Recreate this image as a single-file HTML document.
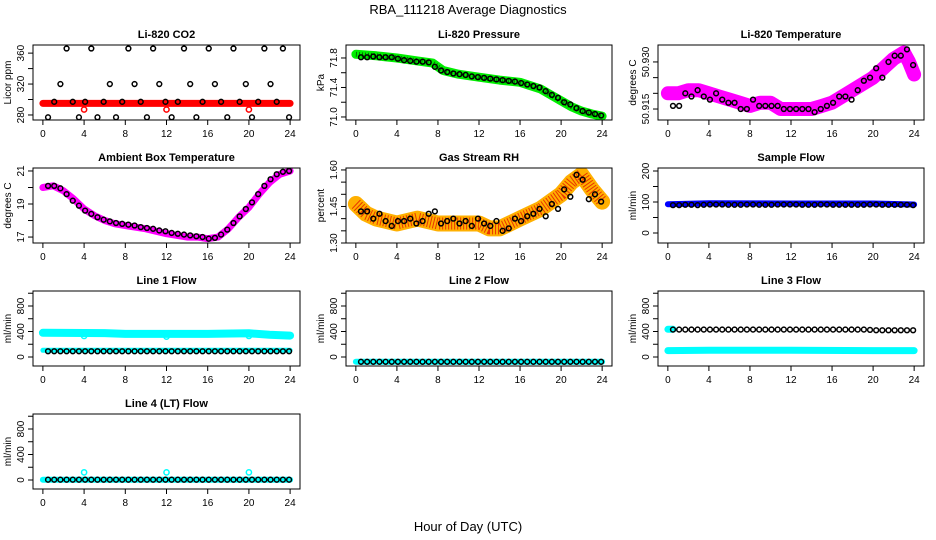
<!DOCTYPE html>
<html><head><meta charset="utf-8">
<style>
html,body{margin:0;padding:0;background:#fff;}
svg{display:block;font-family:"Liberation Sans",Arial,sans-serif;}
</style></head>
<body>
<svg id="chart" width="936" height="540" viewBox="0 0 936 540">
<text x="468" y="14" font-size="13" text-anchor="middle">RBA_111218  Average Diagnostics</text>
<text x="468" y="531" font-size="13" text-anchor="middle">Hour of Day (UTC)</text>
</svg>
<script>
// ---- shared data ----
const circleHours = [0.5,1.1,1.7,2.3,2.9,3.5,4.1,4.7,5.3,5.9,6.5,7.1,7.7,8.3,8.9,9.5,10.1,10.7,11.3,11.9,12.5,13.1,13.7,14.3,14.9,15.5,16.1,16.7,17.3,17.9,18.5,19.1,19.7,20.3,20.9,21.5,22.1,22.7,23.3,23.9];
const xTicks = [0,4,8,12,16,20,24];
const outlierHours = [4,12,20];

// CO2
const co2BandHours = [0,24];
const co2Band = [295,295];
const co2Circles = [277,297,320,366,297,277,297,366,277,297,320,277,297,366,320,297,277,366,320,297,277,297,366,320,277,297,366,320,297,277,366,297,320,277,297,366,320,297,366,277];
const co2Outliers = [287,287,287];
// Pressure
const presBandHours = [0,2,4,6,7.5,8.5,10,12,14,16,18,19,20,21,22,23,24];
const presBand = [71.85,71.83,71.80,71.76,71.73,71.63,71.58,71.54,71.5,71.47,71.38,71.3,71.22,71.14,71.08,71.04,71.01];
const presCircles = [71.81,71.81,71.82,71.81,71.81,71.81,71.79,71.77,71.76,71.75,71.75,71.74,71.68,71.63,71.61,71.59,71.58,71.57,71.55,71.54,71.53,71.52,71.51,71.50,71.49,71.48,71.46,71.44,71.42,71.40,71.35,71.30,71.26,71.20,71.17,71.12,71.08,71.06,71.04,71.02];
// Li-820 temperature
const tempBandHours = [0,1,2,3,4,5,6,7,8,9,10,11,12,13,14,15,16,17,18,19,20,21,22,23,23.5,24];
const tempBand = [50.920,50.920,50.921,50.921,50.920,50.919,50.918,50.917,50.916,50.917,50.917,50.915,50.915,50.915,50.915,50.916,50.917,50.919,50.921,50.923,50.925,50.928,50.931,50.933,50.930,50.926];
const tempCircles = [50.916,50.916,50.920,50.919,50.921,50.919,50.918,50.920,50.918,50.917,50.917,50.915,50.915,50.918,50.916,50.916,50.916,50.916,50.915,50.915,50.915,50.915,50.915,50.914,50.915,50.916,50.917,50.919,50.919,50.918,50.921,50.924,50.925,50.928,50.925,50.930,50.932,50.932,50.934,50.929];
// Ambient
const ambBandHours = [0,1,2,3,4,5,6,7,8,10,12,14,15,16,17,18,19,20,21,22,23,24];
const ambBand = [20.0,20.1,19.8,19.3,18.7,18.3,18.0,17.8,17.7,17.5,17.2,17.0,17.0,16.9,17.0,17.5,18.2,18.8,19.6,20.3,20.8,21.0];
const ambCircles = [20.1,20.1,19.95,19.6,19.2,18.9,18.6,18.4,18.2,18.05,17.95,17.85,17.8,17.75,17.7,17.6,17.55,17.5,17.4,17.35,17.25,17.2,17.15,17.1,17.05,17.0,16.9,16.95,17.15,17.45,17.85,18.25,18.7,19.1,19.6,20.1,20.5,20.8,20.95,21.0];
// RH
const rhBandHours = [0,1,2,4,6,8,10,12,13,14,15,16,18,20,21,22,23,24];
const rhBand = [1.46,1.42,1.40,1.38,1.40,1.38,1.38,1.38,1.36,1.36,1.38,1.40,1.44,1.50,1.55,1.58,1.52,1.47];
const rhCircles = [1.43,1.43,1.40,1.42,1.39,1.37,1.39,1.39,1.40,1.38,1.39,1.42,1.43,1.38,1.39,1.40,1.38,1.39,1.37,1.40,1.38,1.37,1.39,1.35,1.36,1.40,1.39,1.41,1.42,1.44,1.41,1.46,1.44,1.52,1.49,1.58,1.56,1.48,1.50,1.47];
// Sample flow
const sampBandHours = [0,4,12,20,24];
const sampBand = [93,96,95,95,92];
const sampCircles = [90,90,91,91,90,91,92,92,92,91,91,91,92,92,91,91,91,92,92,92,92,91,91,91,92,92,91,91,91,91,91,91,92,92,91,91,91,91,91,90];
// Line flows
const l1HighHours = [0,6,8,16,20,22,24];
const l1High = [380,375,362,362,372,350,335];
const l1LowHours = [0,24];
const l1Low = [105,105];
const l1Circles = [90,90,90,90,90,90,90,90,90,90,90,90,90,90,90,90,90,90,90,90,90,90,90,90,90,90,90,90,90,90,90,90,90,90,90,90,90,90,90,90];
const l1Outliers = [330,320,330];
const l2BandHours = [0,24];
const l2Band = [-75,-75];
const l2Circles = [-75,-75,-75,-75,-75,-75,-75,-75,-75,-75,-75,-75,-75,-75,-75,-75,-75,-75,-75,-75,-75,-75,-75,-75,-75,-75,-75,-75,-75,-75,-75,-75,-75,-75,-75,-75,-75,-75,-75,-75];
const l3HighHours = [0,0.5];
const l3High = [435,435];
const l3LowHours = [0,4,12,20,24];
const l3Low = [100,105,105,100,100];
const l3Circles = [430,430,430,430,430,430,430,430,430,430,430,430,430,430,430,430,430,430,430,430,430,430,430,430,430,430,430,430,430,430,430,430,425,420,420,420,420,420,420,420];
const l4BandHours = [0,24];
const l4Band = [5,5];
const l4Circles = [5,5,5,5,5,5,5,5,5,5,5,5,5,5,5,5,5,5,5,5,5,5,5,5,5,5,5,5,5,5,5,5,5,5,5,5,5,5,5,5];
const l4Outliers = [120,120,120];

const NS = "http://www.w3.org/2000/svg";
const svg = document.getElementById('chart');
function mk(tag, attrs, parent){
  const e = document.createElementNS(NS, tag);
  for (const k in attrs) e.setAttribute(k, attrs[k]);
  (parent||svg).appendChild(e);
  return e;
}
const colL = [33,346,658], colR = [300,612,924];
const rowT = [45,168,291,414], rowB = [120,243,366,489];

function panel(o){
  const L = colL[o.c], R = colR[o.c], T = rowT[o.r], B = rowB[o.r];
  const g = mk('g', {});
  
  
  const sx = h => L + (h + 0.96) / 25.92 * (R - L);
  const sy = v => B - (v - o.ylim[0]) / (o.ylim[1] - o.ylim[0]) * (B - T);
  const clip = 'clip' + o.name;
  const cp = mk('clipPath', {id: clip}, g);
  mk('rect', {x: L, y: T, width: R - L, height: B - T}, cp);
  const pg = mk('g', {'clip-path': 'url(#' + clip + ')'}, g);
  (o.bands || []).forEach(b => {
    const pts = b.hours.map((h, i) => sx(h).toFixed(1) + ',' + sy(b.vals[i]).toFixed(1)).join(' ');
    const pl = mk('polyline', {points: pts, fill: 'none', stroke: b.color, 'stroke-width': b.w, 'stroke-linejoin': 'round', 'stroke-linecap': 'round'}, pg);
    
    
    if (b.dot) {
      const p2 = mk('polyline', {points: pts, fill: 'none', stroke: b.dot, 'stroke-width': b.w - 4, 'stroke-dasharray': '1 2', 'stroke-linejoin': 'round', opacity: 0.7}, pg);
      
      
    }
  });
  (o.outliers || []).forEach(s => {
    s.vals.forEach((v, i) => {
      const c = mk('circle', {cx: sx(outlierHours[i]), cy: sy(v), r: 2.6, fill: 'none', stroke: s.color, 'stroke-width': 1.5}, pg);
      
      
    });
  });
  o.circles.forEach((v, i) => {
    const c = mk('circle', {cx: sx(circleHours[i]), cy: sy(v), r: 2.4, fill: 'none', stroke: '#000', 'stroke-width': 1.5}, pg);
    
    
  });
  const bx = mk('rect', {x: L, y: T, width: R - L, height: B - T, fill: 'none', stroke: '#000', 'stroke-width': 1}, g);
  
  
  xTicks.forEach(h => {
    mk('line', {x1: sx(h), x2: sx(h), y1: B, y2: B + 5, stroke: '#000'}, g);
    const t = mk('text', {x: sx(h), y: B + 17, 'font-size': 10, 'text-anchor': 'middle'}, g);
    t.textContent = h;
    
    
  });
  mk('line', {x1: sx(0), x2: sx(24), y1: B, y2: B, stroke: '#000'}, g);
  o.yt.forEach(v => {
    mk('line', {x1: L - 5, x2: L, y1: sy(v), y2: sy(v), stroke: '#000'}, g);
  });
  mk('line', {x1: L, x2: L, y1: sy(o.yt[0]), y2: sy(o.yt[o.yt.length - 1]), stroke: '#000'}, g);
  o.yl.forEach(v => {
    const y = sy(v), x = L - 9;
    const t = mk('text', {x: x, y: y, 'font-size': 10, 'text-anchor': 'middle', transform: 'rotate(-90 ' + x + ' ' + y + ')'}, g);
    t.textContent = o.fmt(v);
    
    
  });
  const ym = (T + B) / 2, ax = L - 22;
  const at = mk('text', {x: ax, y: ym, 'font-size': 10, 'text-anchor': 'middle', transform: 'rotate(-90 ' + ax + ' ' + ym + ')'}, g);
  at.textContent = o.ylab;
  
  
  const tt = mk('text', {x: (L + R) / 2, y: T - 7, 'font-size': 11, 'font-weight': 'bold', 'text-anchor': 'middle'}, g);
  tt.textContent = o.title;
  
  
}
const f0 = v => String(v), f1 = v => v.toFixed(1), f2 = v => v.toFixed(2), f3 = v => v.toFixed(3);
const flowTicks = [0,200,400,600,800,1000], flowLabels = [0,400,800], flowLim = [-141,1035];

panel({name:'panel-co2', c:0, r:0, title:'Li-820 CO2', ylab:'Licor ppm', ylim:[273.5,370.5], yt:[280,300,320,340,360], yl:[280,320,360], fmt:f0,
  bands:[{name:'co2-band', hours:co2BandHours, vals:co2Band, color:'#ff0000', w:7}],
  outliers:[{vals:co2Outliers, color:'#ff0000'}], circles:co2Circles});
panel({name:'panel-pressure', c:1, r:0, title:'Li-820 Pressure', ylab:'kPa', ylim:[70.959,71.976], yt:[71.0,71.2,71.4,71.6,71.8], yl:[71.0,71.4,71.8], fmt:f1,
  bands:[{name:'pressure-band', hours:presBandHours, vals:presBand, color:'#00ee00', w:9, dot:'#004400'}], circles:presCircles});
panel({name:'panel-li820-temp', c:2, r:0, title:'Li-820 Temperature', ylab:'degrees C', ylim:[50.9115,50.9354], yt:[50.915,50.920,50.925,50.930], yl:[50.915,50.930], fmt:f3,
  bands:[{name:'temp-band', hours:tempBandHours, vals:tempBand, color:'#ff00ff', w:14}], circles:tempCircles});
panel({name:'panel-ambient-temp', c:0, r:1, title:'Ambient Box Temperature', ylab:'degrees C', ylim:[16.64,21.18], yt:[17,18,19,20,21], yl:[17,19,21], fmt:f0,
  bands:[{name:'ambient-band', hours:ambBandHours, vals:ambBand, color:'#ff00ff', w:7}], circles:ambCircles});
panel({name:'panel-rh', c:1, r:1, title:'Gas Stream RH', ylab:'percent', ylim:[1.30,1.608], yt:[1.30,1.35,1.40,1.45,1.50,1.55,1.60], yl:[1.30,1.45,1.60], fmt:f2,
  bands:[{name:'rh-band', hours:rhBandHours, vals:rhBand, color:'#ffb000', w:16, dot:'#e00000'}], circles:rhCircles});
panel({name:'panel-sample-flow', c:2, r:1, title:'Sample Flow', ylab:'ml/min', ylim:[-32.3,209.7], yt:[0,50,100,150,200], yl:[0,100,200], fmt:f0,
  bands:[{name:'sample-band', hours:sampBandHours, vals:sampBand, color:'#0000ff', w:6}], circles:sampCircles});
panel({name:'panel-line1', c:0, r:2, title:'Line 1 Flow', ylab:'ml/min', ylim:flowLim, yt:flowTicks, yl:flowLabels, fmt:f0,
  bands:[{name:'line1-high-band', hours:l1HighHours, vals:l1High, color:'#00ffff', w:8},{name:'line1-low-band', hours:l1LowHours, vals:l1Low, color:'#00ffff', w:5}],
  outliers:[{vals:l1Outliers, color:'#00ffff'}], circles:l1Circles});
panel({name:'panel-line2', c:1, r:2, title:'Line 2 Flow', ylab:'ml/min', ylim:flowLim, yt:flowTicks, yl:flowLabels, fmt:f0,
  bands:[{name:'line2-band', hours:l2BandHours, vals:l2Band, color:'#00ffff', w:6}], circles:l2Circles});
panel({name:'panel-line3', c:2, r:2, title:'Line 3 Flow', ylab:'ml/min', ylim:flowLim, yt:flowTicks, yl:flowLabels, fmt:f0,
  bands:[{name:'line3-high-band', hours:l3HighHours, vals:l3High, color:'#00ffff', w:7},{name:'line3-low-band', hours:l3LowHours, vals:l3Low, color:'#00ffff', w:7}], circles:l3Circles});
panel({name:'panel-line4', c:0, r:3, title:'Line 4 (LT) Flow', ylab:'ml/min', ylim:flowLim, yt:flowTicks, yl:flowLabels, fmt:f0,
  bands:[{name:'line4-band', hours:l4BandHours, vals:l4Band, color:'#00ffff', w:6}],
  outliers:[{vals:l4Outliers, color:'#00ffff'}], circles:l4Circles});
</script>
</body></html>
